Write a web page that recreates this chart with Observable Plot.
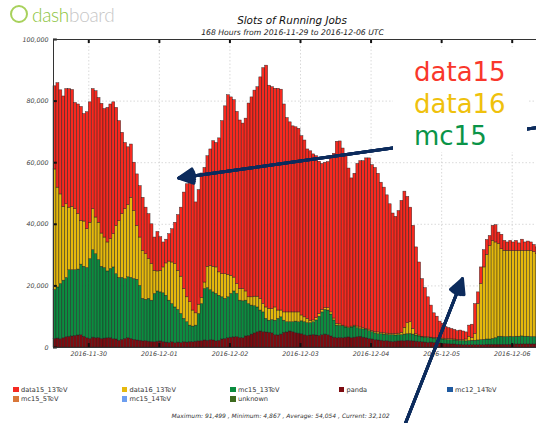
<!DOCTYPE html>
<html><head><meta charset="utf-8">
<script src="https://cdn.jsdelivr.net/npm/d3@7"></script>
<script src="https://cdn.jsdelivr.net/npm/@observablehq/plot@0.6"></script>
<style>
html,body{margin:0;padding:0;background:#fff;overflow:hidden;}
body{width:536px;height:423px;position:relative;font-family:"DejaVu Sans",sans-serif;}
#chart{position:absolute;left:0;top:0;width:550px;}
#chart svg{max-width:none !important;}
#chart svg text{font-family:"DejaVu Sans",sans-serif;font-size:6.3px;font-style:italic;fill:#444;}
.logo{position:absolute;left:10px;top:3px;height:22px;display:flex;align-items:center;font-family:Lato,sans-serif;font-weight:300;font-size:19px;letter-spacing:-0.3px;}
.ring{display:inline-block;width:14px;height:14px;border:2px solid #a8d15c;border-radius:50%;margin-right:4px;}
.dash{color:#8cc43c;} .board{color:#c6c6c6;}
.title{position:absolute;left:0;width:584px;top:14px;text-align:center;font:italic 10.4px/12px "DejaVu Sans",sans-serif;color:#111;}
.subtitle{position:absolute;left:0;width:585px;top:27.8px;text-align:center;font:italic 7.7px/9px "DejaVu Sans",sans-serif;color:#222;}
.leg{position:absolute;height:8px;display:flex;align-items:center;font:6.6px/8px "DejaVu Sans",sans-serif;color:#333;white-space:nowrap;}
.leg i{display:inline-block;width:5.5px;height:5.5px;margin-right:2.5px;}
.footer{position:absolute;left:0;width:561px;top:412px;text-align:center;font:italic 6px/7px "DejaVu Sans",sans-serif;color:#333;}
.note{position:absolute;left:393px;top:47px;width:134px;height:105px;background:#fff;}
.note div{position:absolute;left:21px;font:26px/32px "DejaVu Sans",sans-serif;white-space:nowrap;}
</style></head><body>
<div id="chart"></div>
<div class="logo"><span class="ring"></span><span class="dash">dash</span><span class="board">board</span></div>
<div class="title">Slots of Running Jobs</div>
<div class="subtitle">168 Hours from 2016-11-29 to 2016-12-06 UTC</div>
<div id="legend"></div>
<div class="footer">Maximum: 91,499 , Minimum: 4,867 , Average: 54,054 , Current: 32,102</div>
<div class="note" id="note"></div>
<script>
// hourly values, in thousands of slots, starting 2016-11-29 12:00 UTC
const startTime = "2016-11-29T12:00Z";
const data15 = [
27.0,33.9,33.8,35.8,37.4,38.5,37.9,34.5,35.6,37.0,
34.9,38.0,39.1,39.0,41.0,40.5,42.1,41.7,43.7,43.7,
42.8,38.3,32.4,26.4,21.5,18.8,17.3,15.7,16.7,16.7,
17.2,15.1,14.6,12.9,10.8,12.8,10.9,8.1,7.7,8.9,
10.8,13.4,18.1,22.4,31.3,36.7,41.0,41.0,36.0,37.2,
40.4,37.2,35.9,37.8,40.8,40.4,43.5,49.7,54.5,58.3,
57.9,57.6,55.9,54.7,53.7,56.1,62.9,64.9,66.9,68.0,
71.9,76.6,78.5,72.5,72.0,71.0,72.0,71.7,67.5,63.1,
61.7,60.4,60.1,59.6,58.2,57.4,55.0,55.0,53.9,52.6,
49.4,47.4,47.2,47.4,50.2,53.5,59.1,59.4,57.5,55.3,
51.6,48.1,49.3,52.8,54.0,54.2,55.4,55.6,53.9,53.3,
51.5,48.7,47.3,44.9,42.1,39.1,38.1,39.8,42.8,44.2,
41.0,37.2,33.5,28.2,23.7,18.7,15.9,13.0,10.4,8.0,
7.0,5.4,4.8,3.8,3.5,3.3,3.1,2.8,3.1,2.8,
2.3,3.6,4.4,9.7,3.8,5.4,5.6,4.8,3.2,4.9,
5.6,3.7,4.7,3.2,2.7,3.3,2.8,3.3,2.5,3.6,
2.8,3.0,2.8,2.3,2.1,2.2,2.2,2.1];
const data16 = [
39.1,32.4,29.1,24.0,23.9,20.3,20.6,19.8,18.0,14.2,
14.7,12.6,11.8,13.3,11.9,12.1,10.8,9.9,9.4,9.7,
10.8,15.7,18.5,20.7,22.7,23.4,26.0,22.1,17.5,15.7,
15.6,14.8,12.9,11.9,7.5,6.5,7.0,8.4,10.5,12.7,
13.5,14.1,12.7,12.1,9.7,8.1,7.6,5.2,4.0,3.0,
2.0,2.1,6.9,7.9,8.3,8.6,7.6,7.5,8.0,7.3,
5.9,4.5,3.2,3.8,4.0,3.0,2.2,2.7,3.1,3.5,
3.8,2.7,3.7,3.8,3.6,4.3,2.7,2.2,2.7,3.2,
3.2,3.2,3.0,3.2,1.9,1.6,1.4,0.8,0.6,0.7,
0.9,0.8,0.6,0.8,0.7,0.6,0.6,0.5,0.1,0.3,
0.2,0.3,0.3,0.5,0.5,0.4,0.2,0.5,0.3,0.4,
0.6,0.5,0.4,0.4,0.4,0.4,0.4,0.5,0.8,2.2,
3.6,3.8,1.8,0.4,0.3,0.2,0.2,0.2,0.2,0.2,
0.2,0.3,0.3,0.3,0.4,0.3,0.3,0.3,0.3,0.3,
0.6,1.4,0.8,2.2,11.8,18.2,23.5,27.5,30.4,31.8,
31.1,30.1,28.4,28.0,28.0,27.8,27.9,27.8,27.8,27.8,
27.8,27.9,27.9,27.6,27.1,26.9,26.8,26.8];
const mc15 = [
15.9,16.6,17.9,18.7,19.2,21.6,21.5,21.3,21.4,22.9,
22.7,22.8,25.9,28.4,27.3,25.3,23.4,22.9,21.7,22.5,
23.3,21.2,20.4,20.1,19.4,19.8,19.8,19.7,19.7,17.8,
13.8,13.4,13.9,13.4,15.7,16.3,15.9,15.8,15.2,13.7,
12.4,11.6,10.6,9.4,7.6,6.6,5.3,5.1,5.2,8.9,
12.0,16.7,17.1,16.2,15.6,15.4,14.6,13.7,13.0,13.3,
14.2,14.9,14.0,12.1,12.0,11.6,10.3,9.4,8.8,8.0,
6.8,6.4,4.4,3.9,4.3,4.7,5.4,5.6,3.9,3.3,
3.0,3.2,3.7,3.7,4.2,4.2,4.1,4.0,4.1,4.9,
6.2,7.4,8.0,8.0,7.1,5.6,4.1,3.9,4.0,3.3,
3.0,3.5,3.6,2.9,2.5,2.7,2.8,2.5,2.4,2.2,
2.0,2.1,2.2,2.0,2.1,2.2,2.0,2.0,1.9,2.2,
2.1,2.3,2.2,2.0,1.8,1.6,1.6,1.6,1.4,1.4,
1.4,1.4,1.4,1.3,1.3,1.4,1.3,1.3,1.2,1.3,
1.2,1.3,1.4,1.4,1.5,1.6,1.7,1.7,1.7,1.9,
2.1,2.6,2.6,2.5,2.5,2.6,2.5,2.5,2.5,2.6,
2.5,2.5,2.4,2.4,2.3,2.3,2.3,2.2];
const panda = [
2.8,2.9,2.7,3.0,3.4,3.5,3.6,3.8,3.9,4.0,
3.5,3.0,2.8,3.2,3.0,3.1,2.8,2.9,3.0,3.0,
2.7,2.6,2.2,2.5,2.8,3.0,2.8,2.5,2.3,2.2,
2.0,2.1,1.9,1.8,1.7,1.9,2.0,1.8,1.6,1.5,
1.7,1.4,1.6,1.5,1.7,1.6,1.8,1.7,1.9,2.0,
2.1,2.3,2.2,2.4,2.3,2.0,2.2,2.6,2.8,3.0,
3.2,3.3,3.4,3.1,3.0,3.6,3.8,4.2,4.6,5.0,
5.2,5.0,4.9,4.8,4.6,4.0,3.9,4.2,4.8,4.9,
5.2,5.0,4.7,4.5,4.3,4.0,3.8,3.9,4.1,3.9,
3.8,4.0,4.2,4.0,3.6,3.2,3.0,3.1,3.0,3.2,
3.3,3.0,3.2,3.4,3.5,3.2,3.0,2.8,2.6,2.4,
2.3,2.2,2.0,2.1,1.9,1.8,1.9,2.0,2.1,2.0,
2.2,2.1,2.0,1.9,1.8,1.7,1.6,1.5,1.6,1.5,
1.4,1.3,1.2,1.2,1.1,1.0,1.0,0.9,0.9,0.8,
0.8,0.8,0.8,0.8,0.8,0.8,0.8,0.9,0.9,0.9,
0.9,0.9,0.9,0.9,0.9,0.9,0.9,1.0,1.0,1.0,
1.0,1.0,1.0,1.0,1.0,1.0,1.0,1.0];

const stackNames = ["panda", "mc15_13TeV", "data16_13TeV", "data15_13TeV"];
const stackColors = ["#7d0b10", "#0c8c40", "#e5b80c", "#f8291f"];
const legendNames = ["data15_13TeV","data16_13TeV","mc15_13TeV","panda","mc12_14TeV","mc15_5TeV","mc15_14TeV","unknown"];
const legendColors = ["#f52a22","#e6b90e","#0b8c3f","#7d0b10","#1f5aa0","#d9773a","#6d9eef","#3d6a1e"];
const dayLabels = ["2016-11-30","2016-12-01","2016-12-02","2016-12-03","2016-12-04","2016-12-05","2016-12-06"];
const yTicks = [0, 20000, 40000, 60000, 80000, 100000];
const noteWords = ["data15", "data16", "mc15"];
const noteColors = ["#f9372b", "#efc10d", "#0a9448"];
// annotation arrows (hours from start, thousands of slots)
const arrowFromHour = [169, 117.3];
const arrowFromValue = [72.0, -30.4];
const arrowToHour = [42.6, 139.1];
const arrowToValue = [55.0, 22.3];

const HOUR = 3600e3;
const t0 = new Date(startTime).getTime();
const nHours = data15.length;
const t1 = t0 + nHours * HOUR;
const series = [panda, mc15, data16, data15];
const rows = [];
series.forEach((vals, s) => vals.forEach((v, i) => rows.push({
  series: stackNames[s], start: new Date(t0 + i * HOUR), end: new Date(t0 + (i + 1) * HOUR), value: v * 1000
})));
const dayTicks = dayLabels.map(s => new Date(s + "T00:00Z"));
const arrows = arrowFromHour.map((h, i) => ({
  x1: new Date(t0 + h * HOUR), y1: arrowFromValue[i] * 1000,
  x2: new Date(t0 + arrowToHour[i] * HOUR), y2: arrowToValue[i] * 1000
}));
const grid = {stroke: "#cfcfcf", strokeDasharray: "1.5,2", strokeWidth: 0.8};
const tickStyle = {stroke: "#111", strokeWidth: 2};
const arrowMarks = [54, 40, 26, 12].map(a => Plot.arrow(arrows, {
  x1: "x1", y1: "y1", x2: "x2", y2: "y2", stroke: "#0c2b5c", strokeWidth: 3, headLength: 8, headAngle: a
}));

const chart = Plot.plot({
  width: 550, height: 423,
  marginLeft: 53, marginRight: 3, marginTop: 39, marginBottom: 76,
  x: {type: "utc", domain: [new Date(t0), new Date(t1)], ticks: dayTicks, tickFormat: d3.utcFormat("%Y-%m-%d"), tickSize: 0, tickPadding: 4, label: null},
  y: {domain: [0, 100000], ticks: yTicks, tickFormat: d3.format(","), tickSize: 0, tickPadding: 5, label: null},
  color: {domain: stackNames, range: stackColors},
  marks: [
    Plot.ruleX(dayTicks, grid),
    Plot.ruleY(yTicks, grid),
    Plot.rectY(rows, {x1: "start", x2: "end", y: "value", fill: "series", stroke: "#1e1e1e", strokeWidth: 0.5, strokeOpacity: 0.85}),
    Plot.ruleX(dayTicks, {y1: 100000, y2: 98700, ...tickStyle}),
    Plot.ruleX(dayTicks, {y1: 0, y2: 1300, ...tickStyle}),
    Plot.ruleY(yTicks, {x1: new Date(t0), x2: new Date(t0 + 1.3 * HOUR), ...tickStyle}),
    Plot.frame({stroke: "#333", strokeWidth: 1}),
    ...arrowMarks
  ]
});
document.getElementById("chart").appendChild(chart);

const legend = document.getElementById("legend");
legendNames.forEach((name, i) => {
  const row = i < 5 ? 0 : 1, col = i < 5 ? i : i - 5;
  const d = document.createElement("div");
  d.className = "leg";
  d.style.left = (13 + col * 108.5) + "px";
  d.style.top = (385.5 + row * 9.7) + "px";
  d.innerHTML = `<i style="background:${legendColors[i]}"></i>${name}`;
  legend.appendChild(d);
});
const note = document.getElementById("note");
noteWords.forEach((w, i) => {
  const d = document.createElement("div");
  d.textContent = w;
  d.style.color = noteColors[i];
  d.style.top = (8.7 + i * 32) + "px";
  note.appendChild(d);
});
</script>
</body></html>
